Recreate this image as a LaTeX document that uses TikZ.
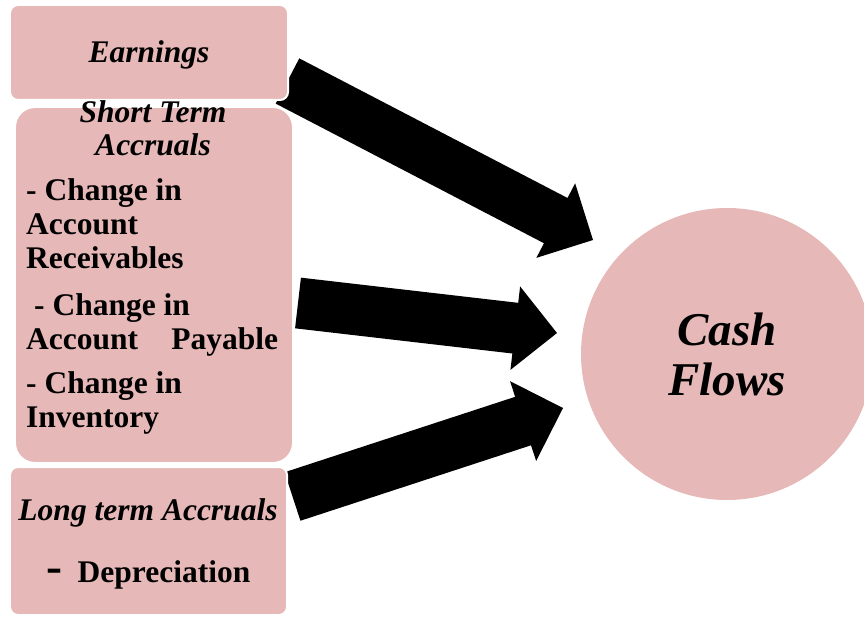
\documentclass[tikz,border=0pt]{standalone}
\usepackage{fontspec}
\setmainfont{Liberation Serif}
\usetikzlibrary{calc}

\definecolor{boxpink}{HTML}{E6B8B7}

% fat black arrow from tail coordinate #1 to tip coordinate #2
\newcommand{\fatarrow}[2]{%
  \coordinate (neck) at ($(#2)!42bp!(#1)$);
  \fill[black] ($(#1)!25.5bp!90:(#2)$) -- ($(neck)!25.5bp!90:(#2)$) -- ($(neck)!42bp!90:(#2)$)
    -- (#2) -- ($(neck)!42bp!-90:(#2)$) -- ($(neck)!25.5bp!-90:(#2)$) -- ($(#1)!25.5bp!-90:(#2)$) -- cycle;
}

\begin{document}
\begin{tikzpicture}[x=1bp, y=-1bp,
  box/.style={rectangle, rounded corners=8bp, fill=boxpink, draw=white, line width=2bp, inner sep=0pt},
  itemtxt/.style={inner sep=0pt, anchor=north west, align=left, font=\bfseries\fontsize{31.5bp}{34bp}\selectfont},
  headtxt/.style={inner sep=0pt, align=center, font=\bfseries\itshape\fontsize{31.5bp}{33bp}\selectfont}]

\useasboundingbox (0,0) rectangle (864,617);

% Arrow ends
\coordinate (t1) at (287.5,81);
\coordinate (p1) at (593,240);
\coordinate (t2) at (298,303);
\coordinate (p2) at (557,333);
\coordinate (t3) at (292.5,496.5);
\coordinate (p3) at (563,408);

% Arrows (under the boxes)
\fatarrow{t1}{p1}
\fatarrow{t2}{p2}
\fatarrow{t3}{p3}

% Boxes
\node[box, headtxt, text height=21bp, text depth=0bp, minimum width=278bp, minimum height=95bp] (earn) at (149,52.5) {Earnings};
\node[box, rounded corners=20bp, minimum width=278bp, minimum height=356bp] (short) at (154,285) {};
\node[box, minimum width=277bp, minimum height=148bp] (long) at (148.5,541) {};

% Cash flows
\node[circle, fill=boxpink, minimum size=292bp, inner sep=0pt, align=center,
  font=\bfseries\itshape\fontsize{47bp}{50bp}\selectfont] (cash) at (727,354) {Cash\\Flows};

% Short term text
\node[headtxt, anchor=north] (sthead) at (153,100.5) {Short Term\\Accruals};
\node[itemtxt] (recv) at (26,178.7) {- Change in\\Account\\Receivables};
\node[itemtxt] (pay) at (26,293.7) {\hspace*{8bp}- Change in\\\makebox[252bp][s]{Account\hfill Payable}};
\node[itemtxt] (inv) at (26,371.7) {- Change in\\Inventory};

% Long term text
\node[headtxt, anchor=base] (lthead) at (148,520) {Long term Accruals};
\node[itemtxt, anchor=base west] (depr) at (46,582) {{\fontsize{48bp}{48bp}\selectfont -}\hspace{15.5bp}Depreciation};

\end{tikzpicture}
\end{document}
